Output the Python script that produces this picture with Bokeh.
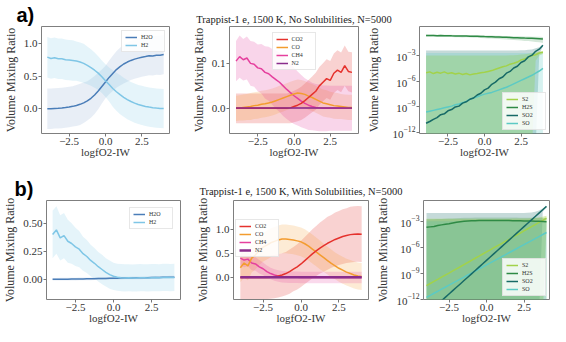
from bokeh.plotting import figure
from bokeh.layouts import row, column
from bokeh.models import Range1d, FixedTicker, LogTickFormatter, Legend, LegendItem
from bokeh.embed import file_html
from bokeh.resources import INLINE

# ---------------- data ----------------
LOGFO2 = [-4.0, -3.75, -3.5, -3.25, -3.0, -2.75, -2.5, -2.25, -2.0, -1.75, -1.5, -1.25,
          -1.0, -0.75, -0.5, -0.25, 0.0, 0.25, 0.5, 0.75, 1.0, 1.25, 1.5, 1.75,
          2.0, 2.25, 2.5, 2.75, 3.0, 3.25, 3.5, 3.75, 4.0]
XTICKS = [-2.5, 0.0, 2.5]
XTICK_LABELS = ["\u22122.5", "0.0", "2.5"]
XLABEL = "logfO2-IW"
YLABEL = "Volume Mixing Ratio"
TITLE_A = "Trappist-1 e, 1500 K, No Solubilities, N=5000"
TITLE_B = "Trappist-1 e, 1500 K, With Solubilities, N=5000"

# panel a) left
H2O_A = [0.00, 0.00, 0.005, 0.008, 0.012, 0.018, 0.026, 0.036, 0.05, 0.067, 0.09, 0.12, 0.16,
         0.21, 0.27, 0.34, 0.41, 0.48, 0.54, 0.60, 0.645, 0.685, 0.715, 0.74, 0.76, 0.775,
         0.79, 0.80, 0.812, 0.808, 0.82, 0.818, 0.83]
H2O_A_SD = [0.31, 0.31, 0.31, 0.31, 0.31, 0.31, 0.31, 0.31, 0.315, 0.315, 0.31, 0.30, 0.30,
            0.29, 0.28, 0.26, 0.25, 0.26, 0.27, 0.28, 0.29, 0.30, 0.30, 0.30, 0.30, 0.30,
            0.30, 0.30, 0.30, 0.30, 0.30, 0.30, 0.30]
H2_A = [0.79, 0.77, 0.78, 0.765, 0.765, 0.75, 0.745, 0.74, 0.73, 0.715, 0.695, 0.665, 0.63,
        0.59, 0.545, 0.49, 0.43, 0.37, 0.31, 0.26, 0.215, 0.175, 0.14, 0.11, 0.085, 0.065,
        0.05, 0.035, 0.025, 0.016, 0.01, 0.005, 0.002]
H2_A_SD = [0.31, 0.31, 0.31, 0.31, 0.31, 0.31, 0.31, 0.31, 0.30, 0.30, 0.30, 0.29, 0.28,
           0.27, 0.26, 0.25, 0.25, 0.26, 0.28, 0.29, 0.30, 0.30, 0.30, 0.30, 0.30, 0.30,
           0.30, 0.30, 0.30, 0.30, 0.30, 0.30, 0.30]

# panel a) middle
CO2_A = [0.0, 0.0, 0.0, 0.0, 0.0, 0.0, 0.0, 0.0, 0.0, 0.0, 0.0, 0.0, 0.0, 0.0, 0.0, 0.001,
         0.004, 0.007, 0.011, 0.017, 0.024, 0.031, 0.038, 0.05, 0.058, 0.066, 0.062, 0.078,
         0.085, 0.08, 0.095, 0.082, 0.08]
CO2_A_SD = [0.033, 0.033, 0.033, 0.033, 0.033, 0.033, 0.033, 0.033, 0.033, 0.033, 0.033,
            0.033, 0.033, 0.033, 0.033, 0.034, 0.035, 0.036, 0.037, 0.038, 0.039, 0.04,
            0.041, 0.042, 0.042, 0.043, 0.043, 0.044, 0.044, 0.044, 0.045, 0.044, 0.045]
CO_A = [0.0, 0.001, 0.002, 0.003, 0.004, 0.006, 0.007, 0.009, 0.01, 0.012, 0.014, 0.017, 0.02,
        0.023, 0.026, 0.029, 0.032, 0.034, 0.033, 0.031, 0.027, 0.024, 0.02, 0.016, 0.012,
        0.01, 0.008, 0.006, 0.005, 0.004, 0.003, 0.002, 0.002]
CO_A_SD = [0.028, 0.028, 0.029, 0.029, 0.03, 0.03, 0.03, 0.03, 0.03, 0.03, 0.03, 0.03, 0.03,
           0.03, 0.03, 0.03, 0.03, 0.03, 0.03, 0.03, 0.03, 0.03, 0.03, 0.03, 0.03, 0.03,
           0.029, 0.029, 0.029, 0.028, 0.028, 0.028, 0.028]
CH4_A = [0.105, 0.115, 0.108, 0.112, 0.1, 0.098, 0.09, 0.088, 0.08, 0.077, 0.07, 0.064, 0.058,
         0.05, 0.042, 0.035, 0.028, 0.022, 0.016, 0.011, 0.007, 0.004, 0.002, 0.001, 0.0,
         0.0, 0.0, 0.0, 0.0, 0.0, 0.0, 0.0, 0.0]
CH4_A_SD = [0.045, 0.047, 0.046, 0.048, 0.05, 0.05, 0.052, 0.055, 0.058, 0.06, 0.062, 0.065,
            0.066, 0.067, 0.066, 0.065, 0.063, 0.06, 0.058, 0.056, 0.055, 0.053, 0.052, 0.052,
            0.051, 0.051, 0.05, 0.05, 0.05, 0.05, 0.05, 0.05, 0.05]
N2_A = [0.0008] * 33
N2_A_SD = [0.002] * 33

# panel a) right (log10 of volume mixing ratio) and linear spreads
S2_A_LOG = [-5.0, -4.9, -5.1, -4.95, -5.05, -4.9, -5.1, -5.0, -5.15, -5.05, -5.2, -5.1, -5.25,
            -5.15, -5.1, -5.0, -4.95, -4.85, -4.75, -4.6, -4.45, -4.3, -4.2, -4.0, -3.9,
            -3.75, -3.5, -3.4, -3.2, -3.0, -2.9, -2.7, -2.6]
H2S_A_LOG = [-0.65, -0.66, -0.64, -0.67, -0.66, -0.68, -0.67, -0.69, -0.7, -0.7, -0.72, -0.71,
             -0.73, -0.74, -0.75, -0.76, -0.78, -0.79, -0.8, -0.82, -0.83, -0.85, -0.86,
             -0.88, -0.9, -0.91, -0.93, -0.95, -0.96, -0.98, -1.0, -1.02, -1.05]
SO2_A_LOG = [-10.9, -10.7, -10.45, -10.25, -9.9, -9.8, -9.45, -9.3, -9.0, -8.9, -8.55, -8.4,
             -8.1, -7.95, -7.6, -7.4, -7.0, -6.8, -6.35, -6.1, -5.7, -5.5, -5.05, -4.85,
             -4.45, -4.25, -3.8, -3.6, -3.15, -2.95, -2.5, -2.25, -1.8]
SO_A_LOG = [-9.6, -9.5, -9.4, -9.3, -9.2, -9.1, -9.0, -8.9, -8.75, -8.65, -8.5, -8.35, -8.1,
            -7.95, -7.8, -7.65, -7.5, -7.4, -7.3, -7.15, -7.0, -6.85, -6.7, -6.5, -6.3, -6.1,
            -5.9, -5.7, -5.5, -5.3, -5.05, -4.8, -4.5]
S2_A_SD = [1.0e-3] * 33
H2S_A_SD = [0.06] * 33
SO2_A_SD = [4.0e-3] * 33
SO_A_SD = [2.0e-3] * 33

# panel b) left
H2O_B = [0.004, 0.004, 0.005, 0.005, 0.005, 0.006, 0.006, 0.007, 0.007, 0.008, 0.008, 0.009,
         0.01, 0.01, 0.011, 0.012, 0.013, 0.013, 0.014, 0.015, 0.015, 0.016, 0.017, 0.017,
         0.018, 0.018, 0.019, 0.02, 0.02, 0.021, 0.021, 0.022, 0.022]
H2O_B_SD = [0.012] * 33
H2_B = [0.40, 0.44, 0.37, 0.39, 0.34, 0.32, 0.29, 0.27, 0.23, 0.205, 0.17, 0.145, 0.115, 0.09,
        0.065, 0.045, 0.03, 0.022, 0.018, 0.016, 0.017, 0.015, 0.016, 0.018, 0.017, 0.016,
        0.018, 0.019, 0.017, 0.02, 0.021, 0.019, 0.02]
H2_B_SD = [0.21, 0.21, 0.2, 0.2, 0.19, 0.18, 0.17, 0.16, 0.15, 0.145, 0.14, 0.135, 0.13, 0.13,
           0.125, 0.125, 0.12, 0.12, 0.12, 0.12, 0.12, 0.12, 0.12, 0.12, 0.12, 0.12, 0.12,
           0.12, 0.12, 0.12, 0.12, 0.12, 0.12]

# panel b) middle
CO2_B = [0.0, 0.0, 0.0, 0.0, 0.0, 0.0, 0.0, 0.0, 0.005, 0.015, 0.03, 0.05, 0.08, 0.12, 0.17,
         0.22, 0.28, 0.35, 0.42, 0.49, 0.55, 0.61, 0.66, 0.71, 0.75, 0.79, 0.82, 0.85, 0.87,
         0.89, 0.9, 0.905, 0.9]
CO2_B_SD = [0.45, 0.45, 0.45, 0.45, 0.45, 0.45, 0.45, 0.45, 0.45, 0.45, 0.45, 0.45, 0.45,
            0.46, 0.46, 0.47, 0.48, 0.49, 0.5, 0.51, 0.52, 0.53, 0.54, 0.55, 0.55, 0.56, 0.56,
            0.57, 0.57, 0.58, 0.58, 0.58, 0.58]
CO_B = [0.2, 0.3, 0.24, 0.4, 0.47, 0.56, 0.63, 0.67, 0.72, 0.75, 0.78, 0.8, 0.8, 0.79, 0.78,
        0.76, 0.74, 0.7, 0.65, 0.59, 0.53, 0.47, 0.41, 0.35, 0.29, 0.24, 0.19, 0.15, 0.11,
        0.08, 0.05, 0.03, 0.02]
CO_B_SD = [0.3, 0.3, 0.3, 0.3, 0.3, 0.3, 0.3, 0.3, 0.3, 0.3, 0.3, 0.3, 0.3, 0.3, 0.3, 0.3,
           0.3, 0.3, 0.3, 0.3, 0.3, 0.3, 0.29, 0.29, 0.29, 0.28, 0.28, 0.28, 0.28, 0.28,
           0.28, 0.28, 0.28]
CH4_B = [0.4, 0.36, 0.38, 0.3, 0.28, 0.22, 0.18, 0.12, 0.08, 0.05, 0.03, 0.015, 0.008, 0.004,
         0.002, 0.001, 0.0, 0.0, 0.0, 0.0, 0.0, 0.0, 0.0, 0.0, 0.0, 0.0, 0.0, 0.0, 0.0, 0.0,
         0.0, 0.0, 0.0]
CH4_B_SD = [0.15, 0.15, 0.15, 0.15, 0.14, 0.14, 0.13, 0.13, 0.12, 0.12, 0.12, 0.12, 0.12,
            0.12, 0.12, 0.12, 0.12, 0.12, 0.12, 0.12, 0.12, 0.12, 0.12, 0.12, 0.12, 0.12,
            0.12, 0.12, 0.12, 0.12, 0.12, 0.12, 0.12]
N2_B = [0.003] * 33
N2_B_SD = [0.02] * 33

# panel b) right (log10)
S2_B_LOG = [-10.45, -10.2, -9.96, -9.72, -9.47, -9.23, -8.99, -8.74, -8.5, -8.26, -8.01, -7.77,
            -7.52, -7.28, -7.04, -6.79, -6.55, -6.31, -6.06, -5.82, -5.58, -5.33, -5.09,
            -4.84, -4.6, -4.36, -4.11, -3.87, -3.63, -3.38, -3.14, -2.89, -2.65]
H2S_B_LOG = [-3.7, -3.65, -3.6, -3.5, -3.42, -3.35, -3.28, -3.2, -3.12, -3.05, -3.0, -2.97,
             -2.95, -2.93, -2.92, -2.91, -2.9, -2.9, -2.9, -2.9, -2.91, -2.91, -2.92, -2.93,
             -2.94, -2.95, -2.96, -2.97, -2.98, -3.0, -3.01, -3.03, -3.05]
SO2_B_LOG = [-13.76, -13.37, -12.98, -12.59, -12.2, -11.81, -11.42, -11.03, -10.64, -10.25,
             -9.86, -9.47, -9.08, -8.69, -8.3, -7.91, -7.52, -7.13, -6.74, -6.35, -5.96,
             -5.57, -5.18, -4.79, -4.4, -4.01, -3.62, -3.23, -2.84, -2.45, -2.06, -1.67, -1.28]
SO_B_LOG = [-11.8, -11.57, -11.33, -11.1, -10.86, -10.63, -10.39, -10.16, -9.93, -9.69, -9.46,
            -9.22, -8.99, -8.75, -8.52, -8.28, -8.05, -7.82, -7.58, -7.35, -7.11, -6.88,
            -6.64, -6.41, -6.18, -5.94, -5.71, -5.47, -5.24, -5.0, -4.77, -4.53, -4.3]
S2_B_SD = [2.0e-3] * 33
H2S_B_SD = [1.5e-3] * 33
SO2_B_SD = [9.0e-3] * 33
SO_B_SD = [1.0e-3] * 33

# ---------------- styling ----------------
SERIF = "Liberation Serif"
SANS = "Liberation Sans"
TXT = "#333333"
C_H2O, C_H2 = "#4a7db8", "#7fc6e6"
C_CO2, C_CO, C_CH4, C_N2 = "#e5322d", "#f39c2f", "#e5409e", "#8a2d8c"
C_S2, C_H2S, C_SO2, C_SO = "#a2d24a", "#2f8a45", "#176a66", "#5ccac4"


def make_fig(width, height, left, right, top, bottom, xr, yr, log=False,
             margin=None, transparent=False, ylabel_standoff=3):
    kw = dict(width=width, height=height, min_border_left=left, min_border_right=right,
              min_border_top=top, min_border_bottom=bottom, x_range=Range1d(*xr),
              y_range=Range1d(*yr), output_backend="svg", toolbar_location=None, tools="")
    if log:
        kw["y_axis_type"] = "log"
    if margin is not None:
        kw["margin"] = margin
    p = figure(**kw)
    p.xgrid.visible = False
    p.ygrid.visible = False
    p.outline_line_color = "#7f7f7f"
    p.outline_line_width = 1
    if transparent:
        p.border_fill_color = None
    for ax in p.axis:
        ax.axis_line_color = None
        ax.major_tick_line_color = "#777777"
        ax.major_tick_out = 3
        ax.major_tick_in = 0
        ax.minor_tick_out = 0
        ax.minor_tick_in = 0
        ax.minor_tick_line_color = None
        ax.major_label_text_font = SERIF
        ax.major_label_text_font_size = "11px"
        ax.major_label_text_color = TXT
        ax.major_label_standoff = 1
        ax.axis_label_text_font = SERIF
        ax.axis_label_text_font_style = "normal"
        ax.axis_label_text_color = TXT
    p.xaxis.ticker = FixedTicker(ticks=XTICKS)
    p.xaxis.major_label_overrides = dict(zip(XTICKS, XTICK_LABELS))
    p.xaxis.axis_label = XLABEL
    p.xaxis.axis_label_text_font_size = "11px"
    p.xaxis.axis_label_standoff = -2
    p.yaxis.axis_label = YLABEL
    p.yaxis.axis_label_text_font_size = "12px"
    p.yaxis.axis_label_standoff = ylabel_standoff
    return p


def set_lin_yticks(p, ticks, labels):
    p.yaxis.ticker = FixedTicker(ticks=ticks)
    p.yaxis.major_label_overrides = dict(zip(ticks, labels))


def set_log_yticks(p):
    p.yaxis.ticker = FixedTicker(ticks=[1e-12, 1e-9, 1e-6, 1e-3])
    p.yaxis.formatter = LogTickFormatter()


def lin_band(p, mean, sd, color, alpha):
    lo = [m - s for m, s in zip(mean, sd)]
    hi = [m + s for m, s in zip(mean, sd)]
    p.varea(x=LOGFO2, y1=lo, y2=hi, fill_color=color, fill_alpha=alpha)


def log_band(p, logs, sd, color, alpha):
    lo, hi = [], []
    for m, s in zip(logs, sd):
        v = 10.0 ** m
        hi.append(v + s)
        lo.append(v - s if v - s > 0 else 1e-14)
    p.varea(x=LOGFO2, y1=lo, y2=hi, fill_color=color, fill_alpha=alpha)


def add_legend(p, items, location, margin=4):
    leg = Legend(items=[LegendItem(label=l, renderers=[r]) for l, r in items],
                 location=location)
    leg.label_text_font = SERIF
    leg.label_text_font_size = "6px"
    leg.label_text_color = TXT
    leg.label_height = 6
    leg.label_standoff = 4
    leg.glyph_width = 12
    leg.glyph_height = 6
    leg.spacing = 2
    leg.padding = 3
    leg.margin = margin
    leg.border_line_color = "#cfcfcf"
    leg.border_line_width = 1
    leg.background_fill_alpha = 0.85
    p.add_layout(leg)


def panel_title(p, text, font, size, style, align, offset, standoff):
    p.title.text = text
    p.title.text_font = font
    p.title.text_font_size = size
    p.title.text_font_style = style
    p.title.text_color = "#222222" if font == SERIF else "#000000"
    p.title.align = align
    p.title.offset = offset
    p.title.standoff = standoff


# ---------------- row a ----------------
f1 = make_fig(188, 160, 34, 19, 25, 19, (-4.4, 4.4), (-0.38, 1.26))
set_lin_yticks(f1, [0.0, 0.5, 1.0], ["0.0", "0.5", "1.0"])
lin_band(f1, H2O_A, H2O_A_SD, C_H2O, 0.13)
lin_band(f1, H2_A, H2_A_SD, C_H2, 0.2)
r_h2o = f1.line(LOGFO2, H2O_A, line_color=C_H2O, line_width=1.5)
r_h2 = f1.line(LOGFO2, H2_A, line_color=C_H2, line_width=1.5)
add_legend(f1, [("H2O", r_h2o), ("H2", r_h2)], "top_right")
panel_title(f1, "a)", SANS, "20px", "bold", "left", -25, 2)

f2 = make_fig(216, 160, 38, 46, 25, 19, (-4.45, 4.45), (-0.056, 0.182))
set_lin_yticks(f2, [0.0, 0.1], ["0.0", "0.1"])
lin_band(f2, CO2_A, CO2_A_SD, C_CO2, 0.22)
lin_band(f2, CO_A, CO_A_SD, C_CO, 0.2)
lin_band(f2, CH4_A, CH4_A_SD, C_CH4, 0.22)
lin_band(f2, N2_A, N2_A_SD, C_N2, 0.3)
r_ch4 = f2.line(LOGFO2, CH4_A, line_color=C_CH4, line_width=1.5)
r_co = f2.line(LOGFO2, CO_A, line_color=C_CO, line_width=1.5)
r_co2 = f2.line(LOGFO2, CO2_A, line_color=C_CO2, line_width=1.5)
r_n2 = f2.line(LOGFO2, N2_A, line_color=C_N2, line_width=1.5)
add_legend(f2, [("CO2", r_co2), ("CO", r_co), ("CH4", r_ch4), ("N2", r_n2)], "top_center", 6)
panel_title(f2, TITLE_A, SERIF, "10.5px", "normal", "center", 5, 3)

f3 = make_fig(192, 160, 61, 1, 18, 19, (-4.45, 4.45), (10 ** -12.1, 10 ** 0.4), log=True,
              margin=(0, 0, 0, -46), transparent=True, ylabel_standoff=8)
f3.title.visible = False
set_log_yticks(f3)
log_band(f3, SO2_A_LOG, SO2_A_SD, C_SO2, 0.25)
log_band(f3, S2_A_LOG, S2_A_SD, C_S2, 0.4)
log_band(f3, SO_A_LOG, SO_A_SD, C_SO, 0.25)
log_band(f3, H2S_A_LOG, H2S_A_SD, C_H2S, 0.2)
r_so = f3.line(LOGFO2, [10 ** v for v in SO_A_LOG], line_color=C_SO, line_width=1.5)
r_s2 = f3.line(LOGFO2, [10 ** v for v in S2_A_LOG], line_color=C_S2, line_width=1.5)
r_h2s = f3.line(LOGFO2, [10 ** v for v in H2S_A_LOG], line_color=C_H2S, line_width=1.5)
r_so2 = f3.line(LOGFO2, [10 ** v for v in SO2_A_LOG], line_color=C_SO2, line_width=1.5)
add_legend(f3, [("S2", r_s2), ("H2S", r_h2s), ("SO2", r_so2), ("SO", r_so)], "bottom_right", 3)

# ---------------- row b ----------------
f4 = make_fig(192, 166, 39, 12, 35, 18, (-4.4, 4.4), (-0.175, 0.70))
set_lin_yticks(f4, [0.0, 0.25, 0.5], ["0.00", "0.25", "0.50"])
lin_band(f4, H2O_B, H2O_B_SD, C_H2O, 0.13)
lin_band(f4, H2_B, H2_B_SD, C_H2, 0.2)
q_h2o = f4.line(LOGFO2, H2O_B, line_color=C_H2O, line_width=1.5)
q_h2 = f4.line(LOGFO2, H2_B, line_color=C_H2, line_width=1.5)
add_legend(f4, [("H2O", q_h2o), ("H2", q_h2)], "top_right", 7)
panel_title(f4, "b)", SANS, "20px", "bold", "left", -32, 1)

f5 = make_fig(218, 166, 40, 42, 28, 18, (-4.45, 4.45), (-0.46, 1.6))
set_lin_yticks(f5, [0.0, 0.5, 1.0], ["0.0", "0.5", "1.0"])
lin_band(f5, CO2_B, CO2_B_SD, C_CO2, 0.22)
lin_band(f5, CO_B, CO_B_SD, C_CO, 0.2)
lin_band(f5, CH4_B, CH4_B_SD, C_CH4, 0.2)
lin_band(f5, N2_B, N2_B_SD, C_N2, 0.3)
q_ch4 = f5.line(LOGFO2, CH4_B, line_color=C_CH4, line_width=1.5)
q_co = f5.line(LOGFO2, CO_B, line_color=C_CO, line_width=1.5)
q_co2 = f5.line(LOGFO2, CO2_B, line_color=C_CO2, line_width=1.5)
q_n2 = f5.line(LOGFO2, N2_B, line_color=C_N2, line_width=2.5)
add_legend(f5, [("CO2", q_co2), ("CO", q_co), ("CH4", q_ch4), ("N2", q_n2)], (2, 42))
panel_title(f5, TITLE_B, SERIF, "10.5px", "normal", "center", 2, 8)

f6 = make_fig(182, 166, 55, 1, 40, 18, (-4.2, 4.2), (10 ** -12.05, 10 ** -0.6), log=True,
              margin=(0, 0, 0, -42), transparent=True, ylabel_standoff=3)
f6.title.visible = False
set_log_yticks(f6)
log_band(f6, SO2_B_LOG, SO2_B_SD, C_SO2, 0.25)
log_band(f6, S2_B_LOG, S2_B_SD, C_S2, 0.4)
log_band(f6, SO_B_LOG, SO_B_SD, C_SO, 0.25)
log_band(f6, H2S_B_LOG, H2S_B_SD, C_H2S, 0.2)
q_so = f6.line(LOGFO2, [10 ** v for v in SO_B_LOG], line_color=C_SO, line_width=1.5)
q_s2 = f6.line(LOGFO2, [10 ** v for v in S2_B_LOG], line_color=C_S2, line_width=1.5)
q_h2s = f6.line(LOGFO2, [10 ** v for v in H2S_B_LOG], line_color=C_H2S, line_width=1.5)
q_so2 = f6.line(LOGFO2, [10 ** v for v in SO2_B_LOG], line_color=C_SO2, line_width=1.5)
add_legend(f6, [("S2", q_s2), ("H2S", q_h2s), ("SO2", q_so2), ("SO", q_so)], "bottom_right", 3)

layout = column(row(f1, f2, f3), row(f4, f5, f6))
open("out.html", "w").write(file_html(layout, INLINE, "Trappist-1 e"))
